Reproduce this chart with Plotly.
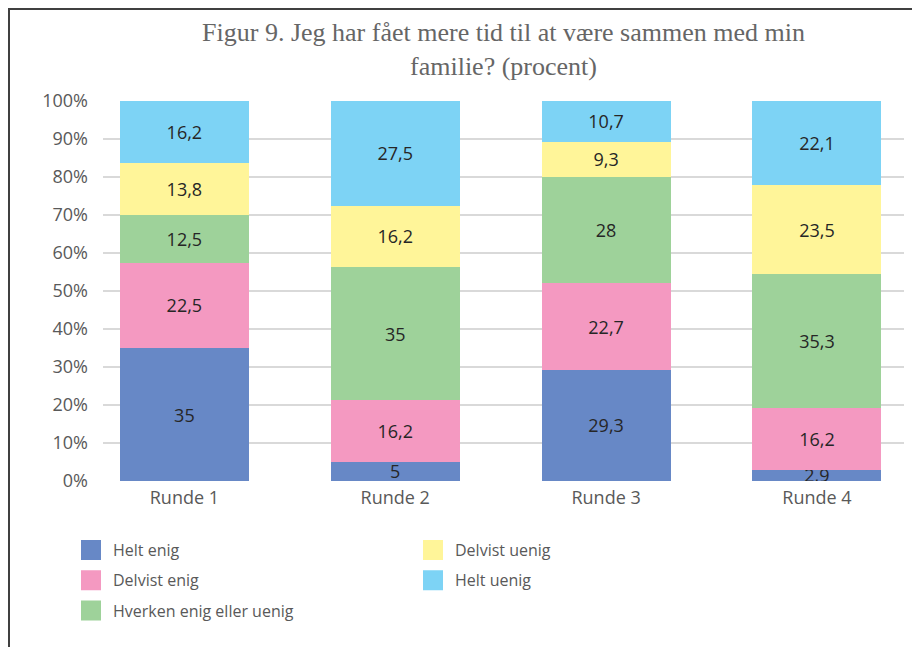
import plotly.graph_objects as go

# ---- data ----
categories = ["Runde 1", "Runde 2", "Runde 3", "Runde 4"]
series_names = ["Helt enig", "Delvist enig", "Hverken enig eller uenig", "Delvist uenig", "Helt uenig"]
helt_enig = [35, 5, 29.3, 2.9]
delvist_enig = [22.5, 16.2, 22.7, 16.2]
hverken = [12.5, 35, 28, 35.3]
delvist_uenig = [13.8, 16.2, 9.3, 23.5]
helt_uenig = [16.2, 27.5, 10.7, 22.1]
y_ticks = [0, 10, 20, 30, 40, 50, 60, 70, 80, 90, 100]
y_tick_labels = [f"{t}%" for t in y_ticks]

series_values = [helt_enig, delvist_enig, hverken, delvist_uenig, helt_uenig]
colors = ["#6788C6", "#F499C1", "#9ED29A", "#FFF599", "#7DD3F5"]
legend_ids = ["legend", "legend", "legend", "legend2", "legend2"]

# page body has an 8px margin; figure is sized/positioned to compensate
OFF = 8
W, H = 920 - OFF, 647 - OFF
L, R, T, B = 103 - OFF, 16, 101 - OFF, 647 - 481
pw, ph = W - L - R, H - T - B


def px_x(p):  # screen px -> paper x
    return (p - OFF - L) / pw


def px_y(p):  # screen px -> paper y
    return (H - B - (p - OFF)) / ph


def fmt(v):
    return f"{v:g}".replace(".", ",")


fig = go.Figure()
for name, vals, col in zip(series_names, series_values, colors):
    fig.add_trace(go.Bar(
        x=categories, y=vals, name=name, marker=dict(color=col, line=dict(width=0)),
        width=0.612, text=[fmt(v) for v in vals], textposition="inside",
        insidetextanchor="middle", constraintext="none", textangle=0,
        textfont=dict(family="Open Sans", size=18, color="#262626"),
        showlegend=False, legendgroup=name, hoverinfo="name+y",
    ))
for name, col, lg in zip(series_names, colors, legend_ids):
    fig.add_trace(go.Scatter(
        x=[None], y=[None], mode="markers", name=name, legendgroup=name, legend=lg,
        marker=dict(symbol="square", size=16, color=col, line=dict(color=col, width=4)),
        showlegend=True,
    ))

legend_common = dict(
    orientation="v", traceorder="grouped", tracegroupgap=6.5,
    font=dict(family="Open Sans", size=16, color="#595959"),
    bgcolor="rgba(0,0,0,0)", xanchor="left", yanchor="top", itemwidth=34,
)

fig.update_layout(
    width=W, height=H,
    margin=dict(l=L, r=R, t=T, b=B),
    paper_bgcolor="white", plot_bgcolor="white",
    barmode="stack", barnorm="percent",
    title=dict(
        text="Figur 9. Jeg har fået mere tid til at være sammen med min<br>familie? (procent)",
        font=dict(family="Liberation Serif", size=26, color="#666666"),
        x=0.5, xref="paper", xanchor="center", y=1 - 33 / H, yref="container", yanchor="top",
    ),
    xaxis=dict(
        type="category", range=[-0.386, 3.413], showgrid=False, showline=False, zeroline=False,
        ticks="", tickfont=dict(family="Open Sans", size=18, color="#595959"), ticklabelstandoff=4,
    ),
    yaxis=dict(
        range=[0, 100], tickmode="array", tickvals=y_ticks, ticktext=y_tick_labels,
        showgrid=True, gridcolor="#D9D9D9",
        gridwidth=1.5, zeroline=False, showline=False, ticks="",
        tickfont=dict(family="Open Sans", size=18, color="#595959"), ticklabelstandoff=14,
    ),
    legend=dict(legend_common, x=px_x(69), y=px_y(533)),
    legend2=dict(legend_common, x=px_x(411), y=px_y(533)),
    shapes=[
        dict(type="line", xref="paper", yref="paper", x0=px_x(9), x1=px_x(9), y0=px_y(9), y1=px_y(660),
             line=dict(color="#404040", width=2)),
        dict(type="line", xref="paper", yref="paper", x0=px_x(8), x1=px_x(930), y0=px_y(9), y1=px_y(9),
             line=dict(color="#404040", width=2)),
    ],
)

fig.write_html("out.html")
